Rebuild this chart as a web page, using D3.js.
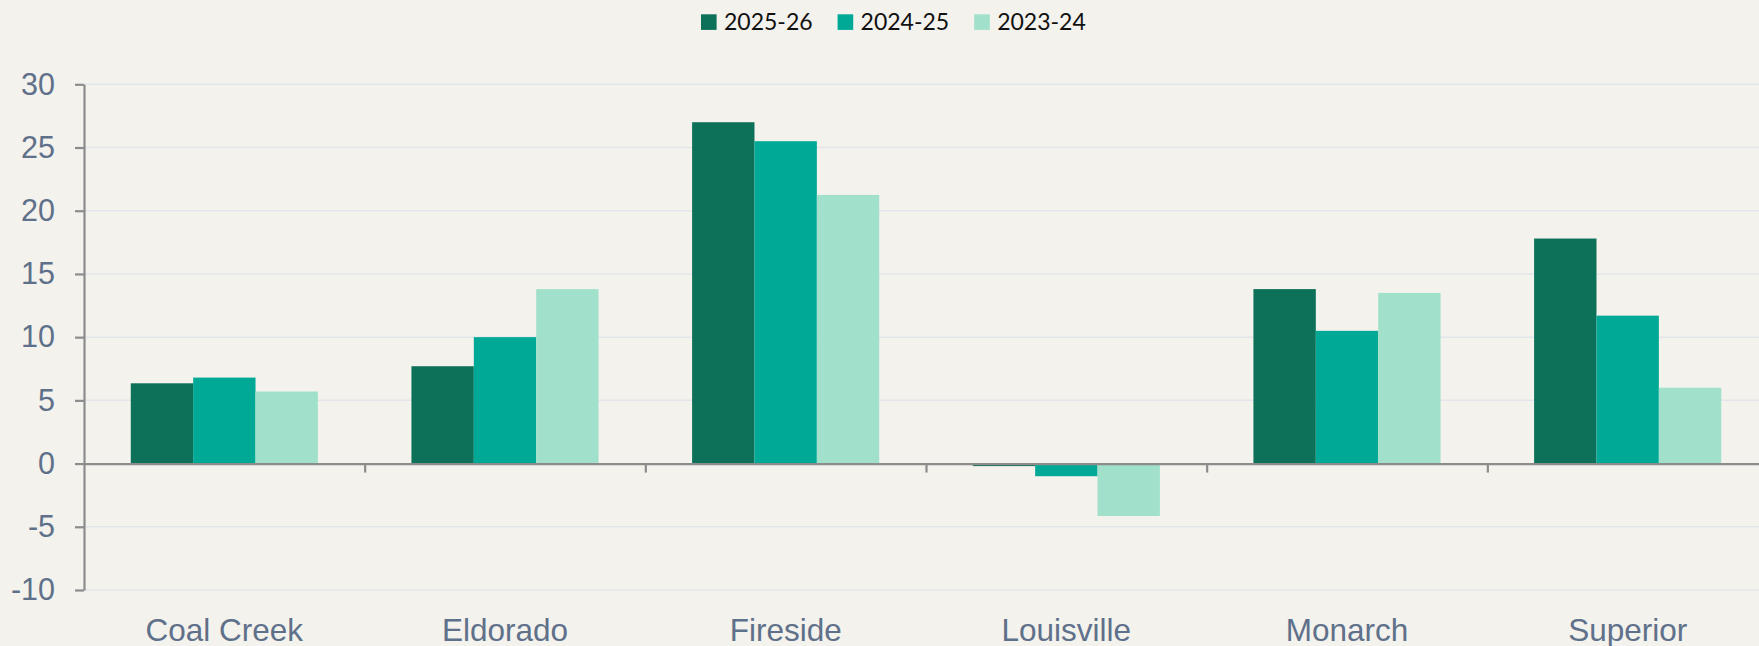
<!DOCTYPE html>
<html>
<head>
<meta charset="utf-8">
<script src="https://cdn.jsdelivr.net/npm/d3@7"></script>
<style>
  body { margin: 0; background: #f3f2ed; }
  svg { display: block; }
</style>
</head>
<body>
<div id="chart"></div>
<script>
const categories = ['Coal Creek', 'Eldorado', 'Fireside', 'Louisville', 'Monarch', 'Superior']
const seriesNames = ['2025-26', '2024-25', '2023-24']
const values2025 = [6.35, 7.7, 27.0, -0.2, 13.8, 17.8]
const values2024 = [6.8, 10.0, 25.5, -1.0, 10.5, 11.7]
const values2023 = [5.7, 13.8, 21.25, -4.15, 13.5, 6.0]
const yTicks = [-10, -5, 0, 5, 10, 15, 20, 25, 30]

const colors = ['#0d7059', '#00a896', '#a1e1cb']
const WIDTH = 1759
const HEIGHT = 646
const LEFT = 84
const RIGHT = 1768

const svg = d3.select('#chart')
    .append('svg')
    .attr('width', WIDTH)
    .attr('height', HEIGHT)

svg.append('rect')
    .attr('width', WIDTH)
    .attr('height', HEIGHT)
    .attr('fill', '#f3f2ed')

const x = d3.scaleBand()
    .domain(categories)
    .range([LEFT, RIGHT])
    .paddingInner(1 / 3)
    .paddingOuter(1 / 6)

const x1 = d3.scaleBand()
    .domain(seriesNames)
    .range([0, x.bandwidth()])

const y = d3.scaleLinear()
    .domain([-10, 30])
    .range([590, 84.3])

const series = [values2025, values2024, values2023]
const rows = categories.map((c, i) => ({
    cat: c,
    vals: seriesNames.map((s, j) => ({ name: s, value: series[j][i], color: colors[j] }))
}))

// gridlines
svg.append('g')
    .selectAll('line')
    .data(yTicks.filter(d => d !== 0))
    .enter().append('line')
    .attr('x1', LEFT)
    .attr('x2', WIDTH)
    .attr('y1', d => y(d))
    .attr('y2', d => y(d))
    .attr('stroke', '#e2e5eb')
    .attr('stroke-width', 1.5)

// bars
svg.append('g')
    .selectAll('g')
    .data(rows)
    .enter().append('g')
    .attr('transform', d => `translate(${x(d.cat)},0)`)
    .selectAll('rect')
    .data(d => d.vals)
    .enter().append('rect')
    .attr('x', d => x1(d.name))
    .attr('width', x1.bandwidth())
    .attr('y', d => Math.min(y(d.value), y(0)))
    .attr('height', d => Math.abs(y(d.value) - y(0)))
    .attr('fill', d => d.color)

// x axis: zero line with ticks between categories
const xEdges = d3.scaleLinear().domain([0, categories.length]).range([LEFT, RIGHT])
svg.append('g')
    .attr('transform', `translate(0,${y(0)})`)
    .call(d3.axisBottom(xEdges)
        .tickValues(d3.range(1, categories.length))
        .tickSize(9)
        .tickSizeOuter(0)
        .tickFormat(''))
    .call(g => g.selectAll('path, line').attr('stroke', '#8c8c8c').attr('stroke-width', 2.2))

// category labels
svg.append('g')
    .attr('transform', `translate(0,${y(0)})`)
    .call(d3.axisBottom(x).tickSize(0))
    .call(g => g.select('.domain').remove())
    .call(g => g.selectAll('text')
        .attr('y', 640.7 - y(0))
        .attr('dy', 0)
        .attr('fill', '#5f708a')
        .attr('font-family', '"Liberation Sans", Arial, sans-serif')
        .attr('font-size', 31.5))

// y axis
svg.append('g')
    .attr('transform', `translate(${LEFT},0)`)
    .call(d3.axisLeft(y)
        .tickValues(yTicks)
        .tickSize(9)
        .tickSizeOuter(0)
        .tickPadding(20)
        .tickFormat(d => String(d)))
    .call(g => g.selectAll('path, line').attr('stroke', '#8c8c8c').attr('stroke-width', 2.2))
    .call(g => g.selectAll('text')
        .attr('fill', '#5f708a')
        .attr('font-family', '"Liberation Sans", Arial, sans-serif')
        .attr('font-size', 30.5))

// legend
const legend = svg.append('g')
let lx = 701
seriesNames.forEach((s, i) => {
    legend.append('rect')
        .attr('x', lx)
        .attr('y', 14.3)
        .attr('width', 15.6)
        .attr('height', 15.6)
        .attr('fill', colors[i])
    const t = legend.append('text')
        .attr('x', lx + 23)
        .attr('y', 30)
        .attr('font-family', 'Lato, "Open Sans", sans-serif')
        .attr('font-size', 23)
        .attr('fill', '#111')
        .text(s)
    lx += 23 + t.node().getComputedTextLength() + 25
})
</script>
</body>
</html>
